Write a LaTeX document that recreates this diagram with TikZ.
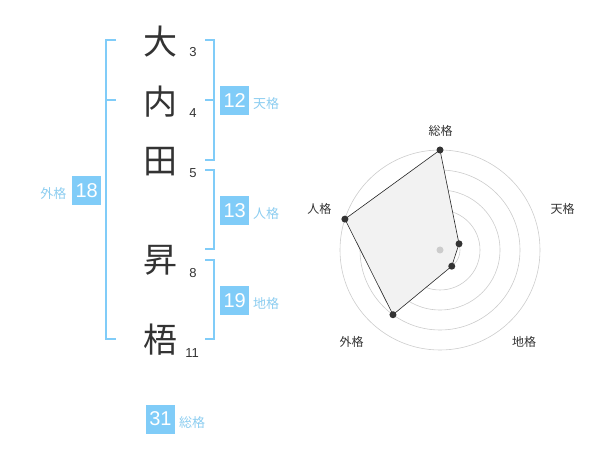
\documentclass[tikz,border=0pt]{standalone}
\usepackage{fontspec}
\setmainfont{Liberation Sans}
\newfontfamily\jpfont{Noto Sans CJK JP}
\usetikzlibrary{calc}
\definecolor{kakublue}{RGB}{128, 204, 248}
\definecolor{kakulabel}{RGB}{140, 205, 240}
\definecolor{inkgray}{RGB}{51, 51, 51}
\definecolor{ringgray}{RGB}{204, 204, 204}
\definecolor{areagray}{RGB}{242, 242, 242}
\tikzset{
  kanji/.style={text=inkgray, font=\jpfont\fontsize{34}{34}\selectfont, inner sep=0pt},
  strokes/.style={text=inkgray, font=\fontsize{13}{13}\selectfont, inner sep=0pt},
  kakubox/.style={fill=kakublue, text=white, minimum size=29pt, inner sep=0pt, font=\fontsize{20}{20}\selectfont},
  kakuname/.style={text=kakulabel, font=\jpfont\fontsize{13}{13}\selectfont, inner sep=0pt},
  bracket/.style={draw=kakublue, line width=2pt},
  ring/.style={draw=ringgray, line width=0.6pt},
  radarname/.style={text=inkgray, font=\jpfont\fontsize{12}{12}\selectfont, inner sep=0pt},
  vertex/.style={circle, fill=inkgray, inner sep=0pt, minimum size=7pt}
}

\begin{document}
\begin{tikzpicture}[x=1pt, y=-1pt]
  \useasboundingbox (0,0) rectangle (600,470);

  % name characters and stroke counts
  \node[kanji] (k1) at (160, 42) {大};
  \node[kanji] (k2) at (160, 102) {内};
  \node[kanji] (k3) at (160, 162) {田};
  \node[kanji] (k4) at (160, 260) {昇};
  \node[kanji] (k5) at (160, 340) {梧};
  \node[strokes] (s1) at (193, 52) {3};
  \node[strokes] (s2) at (193, 113) {4};
  \node[strokes] (s3) at (193, 173) {5};
  \node[strokes] (s4) at (193, 273) {8};
  \node[strokes] (s5) at (192, 353) {11};

  % brackets
  \draw[bracket] (116, 40) -- (106, 40) -- (106, 339) -- (116, 339);
  \draw[bracket] (106, 100) -- (116, 100);
  \draw[bracket] (205, 40) -- (214, 40) -- (214, 160) -- (205, 160);
  \draw[bracket] (205, 100) -- (214, 100);
  \draw[bracket] (205, 170) -- (214, 170) -- (214, 249) -- (205, 249);
  \draw[bracket] (205, 260) -- (214, 260) -- (214, 339) -- (205, 339);

  % kaku values
  \node[kakubox] (ten) at (234.7, 100.5) {12};
  \node[kakuname, anchor=west] (tenname) at (253, 104) {天格};
  \node[kakubox] (jin) at (234.7, 210.5) {13};
  \node[kakuname, anchor=west] (jinname) at (253, 214) {人格};
  \node[kakubox] (chi) at (234.7, 300.5) {19};
  \node[kakuname, anchor=west] (chiname) at (253, 304) {地格};
  \node[kakubox] (gai) at (86.7, 190.5) {18};
  \node[kakuname, anchor=east] (gainame) at (66.5, 193.5) {外格};
  \node[kakubox] (sou) at (160.5, 419) {31};
  \node[kakuname, anchor=west] (souname) at (179, 422.5) {総格};

  % radar chart
  \coordinate (c) at (440, 250);
  \foreach \r in {20, 40, 60, 80, 100}
    \draw[ring] (c) circle[radius=\r pt];
  \coordinate (psou) at ($(c)+(90:100pt)$);
  \coordinate (pten) at ($(c)+(18:20pt)$);
  \coordinate (pchi) at ($(c)+(-54:20pt)$);
  \coordinate (pgai) at ($(c)+(-126:80pt)$);
  \coordinate (pjin) at ($(c)+(162:100pt)$);
  \draw[fill=areagray, draw=black!85, line width=0.6pt] (psou) -- (pten) -- (pchi) -- (pgai) -- (pjin) -- cycle;
  \fill[ringgray] (c) circle[radius=3.5pt];
  \foreach \p in {psou, pten, pchi, pgai, pjin}
    \node[vertex] at (\p) {};
  \node[radarname] (rsou) at (440.7, 130.7) {総格};
  \node[radarname] (rten) at (562.7, 208.7) {天格};
  \node[radarname] (rjin) at (319.3, 208.7) {人格};
  \node[radarname] (rgai) at (351.7, 342.3) {外格};
  \node[radarname] (rchi) at (524, 342.3) {地格};
\end{tikzpicture}
\end{document}
